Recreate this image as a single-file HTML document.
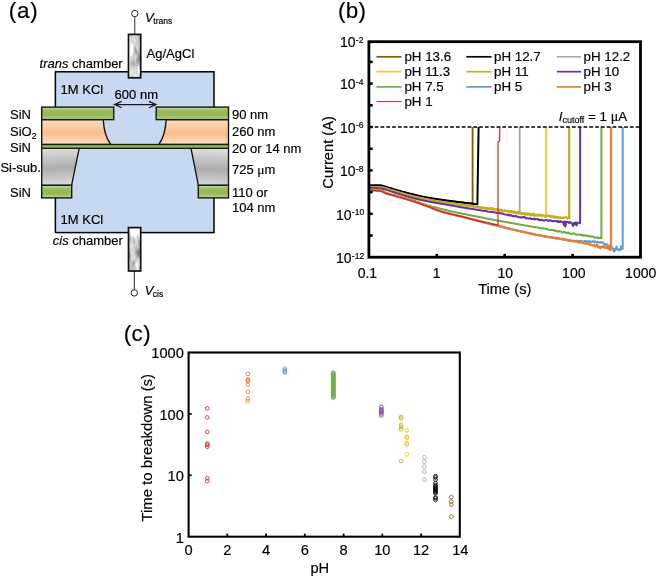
<!DOCTYPE html>
<html><head><meta charset="utf-8"><title>figure</title>
<style>
html,body{margin:0;padding:0;background:#fff;}
svg{display:block;font-family:"Liberation Sans",sans-serif;}
#panelA,#panelB,#panelC{opacity:0.999;}
text{fill:#000;stroke:#000;stroke-width:0.18px;}
</style></head><body>
<svg width="658" height="579" viewBox="0 0 658 579">
<defs>
<linearGradient id="gSiN" x1="0" y1="0" x2="0" y2="1"><stop offset="0" stop-color="#c6d9a0"/><stop offset="0.3" stop-color="#9bbb59"/><stop offset="0.65" stop-color="#97b856"/><stop offset="1" stop-color="#bdd391"/></linearGradient>
<linearGradient id="gOx" x1="0" y1="0" x2="0" y2="1"><stop offset="0" stop-color="#fddcc2"/><stop offset="0.55" stop-color="#fabf8f"/><stop offset="1" stop-color="#fddcc2"/></linearGradient>
<linearGradient id="gSiL" x1="0" y1="0" x2="0.04" y2="1"><stop offset="0" stop-color="#dedede"/><stop offset="0.55" stop-color="#adadad"/><stop offset="1" stop-color="#d9d9d9"/></linearGradient>
<linearGradient id="gSiR" x1="0.04" y1="0" x2="0" y2="1"><stop offset="0" stop-color="#dedede"/><stop offset="0.55" stop-color="#adadad"/><stop offset="1" stop-color="#d9d9d9"/></linearGradient>
<filter id="marble" x="0" y="0" width="1" height="1" color-interpolation-filters="sRGB"><feTurbulence type="fractalNoise" baseFrequency="0.12 0.05" numOctaves="3" seed="11"/><feColorMatrix type="matrix" values="1.25 0 0 0 0.2  1.25 0 0 0 0.2  1.25 0 0 0 0.2  0 0 0 0 1"/></filter>
<linearGradient id="gEl" x1="0" y1="0" x2="1" y2="1"><stop offset="0" stop-color="#c8c8c8"/><stop offset="0.25" stop-color="#e4e4e4"/><stop offset="0.45" stop-color="#b4b4b4"/><stop offset="0.65" stop-color="#dedede"/><stop offset="0.85" stop-color="#bdbdbd"/><stop offset="1" stop-color="#d5d5d5"/></linearGradient>
</defs>
<rect width="658" height="579" fill="#fff"/>
<g id="panelA">
<rect x="55.4" y="71.8" width="158.6" height="160.8" fill="#c6d9f1" stroke="#000" stroke-width="1.5"/>
<path d="M41.7,119.6 H103.2 C104,132 106.5,139 110.8,144.5 H41.7 Z" fill="url(#gOx)" stroke="#15150c" stroke-width="1.35"/>
<path d="M228.5,119.6 H166.2 C165.4,132 163,139 158.8,144.5 H228.5 Z" fill="url(#gOx)" stroke="#15150c" stroke-width="1.35"/>
<path d="M41.7,148.3 H79.2 L71.6,185.3 H41.7 Z" fill="url(#gSiL)" stroke="#151515" stroke-width="1.35"/>
<path d="M228.5,148.3 H191 L198.4,185.3 H228.5 Z" fill="url(#gSiR)" stroke="#151515" stroke-width="1.35"/>
<rect x="41.7" y="107.1" width="72" height="12.5" fill="url(#gSiN)" stroke="#121a08" stroke-width="1.4"/>
<rect x="156.2" y="107.1" width="72.3" height="12.5" fill="url(#gSiN)" stroke="#121a08" stroke-width="1.4"/>
<rect x="41.7" y="144.5" width="186.8" height="3.8" fill="#93b654" stroke="#121a08" stroke-width="1.3"/>
<rect x="41.7" y="185.3" width="30" height="12.6" fill="url(#gSiN)" stroke="#121a08" stroke-width="1.4"/>
<rect x="198.3" y="185.3" width="30.2" height="12.6" fill="url(#gSiN)" stroke="#121a08" stroke-width="1.4"/>
<line x1="134.8" y1="16.5" x2="134.8" y2="34" stroke="#333" stroke-width="1"/>
<circle cx="134.8" cy="13.5" r="3.2" fill="#fff" stroke="#222" stroke-width="1"/>
<rect x="128.5" y="34.4" width="12.2" height="43.4" fill="#ccc" filter="url(#marble)"/>
<rect x="128.5" y="34.4" width="12.2" height="43.4" fill="none" stroke="#111" stroke-width="1.7"/>
<line x1="134.3" y1="271" x2="134.3" y2="290" stroke="#222" stroke-width="1"/>
<circle cx="134.3" cy="292.9" r="3.2" fill="#fff" stroke="#222" stroke-width="1"/>
<rect x="128.5" y="227.6" width="12.2" height="43.4" fill="#ccc" filter="url(#marble)"/>
<rect x="128.5" y="227.6" width="12.2" height="43.4" fill="none" stroke="#111" stroke-width="1.7"/>
<path d="M114.6,104.6 H156 M121.6,101.4 L114.6,104.6 L121.6,107.8 M149,101.4 L156,104.6 L149,107.8" fill="none" stroke="#1a1a1a" stroke-width="1.2" stroke-linejoin="miter"/>
<text x="8.8" y="18" font-size="22.4" text-anchor="start" letter-spacing="0.8">(a)</text>
<text x="145.1" y="21.9" font-size="13"><tspan font-style="italic">V</tspan><tspan font-size="8.5" dy="2.5" dx="-0.5">trans</tspan></text>
<text x="146.6" y="58.4" font-size="13" text-anchor="start" >Ag/AgCl</text>
<text x="39.6" y="68" font-size="13"><tspan font-style="italic">trans</tspan> chamber</text>
<text x="60.6" y="93.7" font-size="13" text-anchor="start" >1M KCl</text>
<text x="114.6" y="98.5" font-size="13" text-anchor="start" >600 nm</text>
<text x="10" y="118.6" font-size="13" text-anchor="start" >SiN</text>
<text x="10" y="135.7" font-size="13">SiO<tspan font-size="8.5" dy="3">2</tspan></text>
<text x="10" y="151.8" font-size="13" text-anchor="start" >SiN</text>
<text x="0.4" y="171.8" font-size="13" text-anchor="start" >Si-sub.</text>
<text x="10" y="197" font-size="13" text-anchor="start" >SiN</text>
<text x="232" y="119.3" font-size="13" text-anchor="start" >90 nm</text>
<text x="232" y="136.3" font-size="13" text-anchor="start" >260 nm</text>
<text x="232" y="152.7" font-size="13" text-anchor="start" >20 or 14 nm</text>
<text x="232" y="173.6" font-size="13">725 <tspan font-family="Liberation Serif, serif" font-size="13.5">μ</tspan>m</text>
<text x="232" y="197" font-size="13" text-anchor="start" >110 or</text>
<text x="232" y="212.3" font-size="13" text-anchor="start" >104 nm</text>
<text x="60.6" y="223.5" font-size="13" text-anchor="start" >1M KCl</text>
<text x="52.8" y="245" font-size="13"><tspan font-style="italic">cis</tspan> chamber</text>
<text x="144.7" y="294.7" font-size="13"><tspan font-style="italic">V</tspan><tspan font-size="8.5" dy="2.5" dx="-0.5">cis</tspan></text>
</g>
<g id="panelB">
<path d="M370.0,186.0 L370.7,186.0 L371.4,186.0 L372.1,186.0 L372.8,186.0 L373.5,186.0 L374.2,186.0 L374.9,186.0 L375.6,186.0 L376.3,186.0 L377.0,186.0 L377.7,186.0 L378.4,186.0 L379.1,186.0 L379.8,186.0 L380.5,186.0 L381.2,186.2 L381.9,186.4 L382.6,186.6 L383.4,186.8 L384.1,187.0 L384.8,187.2 L385.5,187.4 L386.2,187.6 L386.9,187.8 L387.6,188.0 L388.3,188.2 L389.0,188.4 L389.7,188.6 L390.4,188.8 L391.1,189.1 L391.8,189.3 L392.5,189.5 L393.2,189.7 L393.9,189.9 L394.6,190.1 L395.3,190.3 L396.0,190.5 L396.7,190.7 L397.4,190.9 L398.1,191.1 L398.8,191.3 L399.5,191.5 L400.2,191.7 L400.9,191.9 L401.6,192.1 L402.3,192.3 L403.0,192.5 L403.7,192.7 L404.4,192.9 L405.1,193.0 L405.8,193.2 L406.5,193.4 L407.2,193.6 L407.9,193.8 L408.7,194.0 L409.4,194.2 L410.1,194.3 L410.8,194.5 L411.5,194.7 L412.2,194.8 L412.9,195.0 L413.6,195.2 L414.3,195.3 L415.0,195.5 L415.7,195.7 L416.4,195.8 L417.1,196.0 L417.8,196.1 L418.5,196.3 L419.2,196.4 L419.9,196.6 L420.6,196.7 L421.3,196.9 L422.0,197.0 L422.7,197.2 L423.4,197.3 L424.1,197.5 L424.8,197.6 L425.5,197.7 L426.2,197.9 L426.9,198.0 L427.6,198.1 L428.3,198.2 L429.0,198.4 L429.7,198.5 L430.4,198.6 L431.1,198.7 L431.8,198.8 L432.5,198.9 L433.2,199.0 L433.9,199.2 L434.7,199.3 L435.4,199.4 L436.1,199.5 L436.8,199.6 L437.5,199.7 L438.2,199.8 L438.9,199.9 L439.6,200.0 L440.3,200.1 L441.0,200.2 L441.7,200.3 L442.4,200.3 L443.1,200.4 L443.8,200.5 L444.5,200.6 L445.2,200.7 L445.9,200.8 L446.6,200.9 L447.3,201.0 L448.0,201.0 L448.7,201.1 L449.4,201.2 L450.1,201.3 L450.8,201.4 L451.5,201.4 L452.2,201.5 L452.9,201.6 L453.6,201.7 L454.3,201.7 L455.0,201.8 L455.7,201.8 L456.4,201.9 L457.1,202.0 L457.8,202.0 L458.5,202.1 L459.2,202.2 L460.0,202.2 L460.7,202.3 L461.4,202.4 L462.1,202.5 L462.8,202.5 L463.5,202.6 L464.2,202.7 L464.9,202.6 L465.6,202.8 L466.3,202.8 L467.0,202.8 L467.7,202.9 L468.4,203.0 L469.1,203.1 L469.8,203.0 L470.5,203.2 L471.2,203.2 L471.9,203.2 L472.6,203.3 L472.6,127.0" fill="none" stroke="#7f6000" stroke-width="1.8" stroke-linejoin="round"/>
<path d="M370.0,185.2 L370.7,185.2 L371.4,185.2 L372.1,185.2 L372.8,185.2 L373.5,185.2 L374.2,185.2 L374.9,185.2 L375.6,185.2 L376.3,185.2 L377.0,185.2 L377.7,185.2 L378.4,185.2 L379.1,185.2 L379.8,185.2 L380.5,185.2 L381.2,185.4 L381.9,185.5 L382.6,185.8 L383.3,186.0 L384.0,186.2 L384.7,186.4 L385.4,186.6 L386.1,186.8 L386.8,187.0 L387.5,187.2 L388.3,187.4 L389.0,187.7 L389.7,187.9 L390.4,188.1 L391.1,188.3 L391.8,188.5 L392.5,188.7 L393.2,189.0 L393.9,189.2 L394.6,189.4 L395.3,189.6 L396.0,189.8 L396.7,190.0 L397.4,190.2 L398.1,190.4 L398.8,190.6 L399.5,190.8 L400.2,191.0 L400.9,191.2 L401.6,191.4 L402.3,191.6 L403.0,191.8 L403.7,191.9 L404.4,192.1 L405.1,192.3 L405.8,192.5 L406.5,192.7 L407.2,192.9 L407.9,193.1 L408.6,193.2 L409.3,193.4 L410.0,193.6 L410.7,193.8 L411.4,194.0 L412.1,194.1 L412.8,194.3 L413.5,194.5 L414.2,194.6 L414.9,194.8 L415.6,195.0 L416.3,195.2 L417.0,195.3 L417.7,195.5 L418.4,195.7 L419.1,195.8 L419.8,196.0 L420.5,196.2 L421.2,196.3 L421.9,196.5 L422.6,196.6 L423.3,196.8 L424.1,196.9 L424.8,197.1 L425.5,197.2 L426.2,197.3 L426.9,197.5 L427.6,197.6 L428.3,197.7 L429.0,197.8 L429.7,198.0 L430.4,198.1 L431.1,198.2 L431.8,198.3 L432.5,198.4 L433.2,198.5 L433.9,198.6 L434.6,198.7 L435.3,198.8 L436.0,198.9 L436.7,199.0 L437.4,199.1 L438.1,199.2 L438.8,199.3 L439.5,199.4 L440.2,199.5 L440.9,199.6 L441.6,199.7 L442.3,199.8 L443.0,199.9 L443.7,200.0 L444.4,200.1 L445.1,200.2 L445.8,200.3 L446.5,200.4 L447.2,200.5 L447.9,200.6 L448.6,200.7 L449.3,200.8 L450.0,200.9 L450.7,201.0 L451.4,201.1 L452.1,201.2 L452.8,201.3 L453.5,201.3 L454.2,201.4 L454.9,201.5 L455.6,201.6 L456.3,201.7 L457.0,201.8 L457.7,201.9 L458.4,202.0 L459.1,202.1 L459.9,202.2 L460.6,202.3 L461.3,202.4 L462.0,202.4 L462.7,202.6 L463.4,202.6 L464.1,202.7 L464.8,202.9 L465.5,202.9 L466.2,203.0 L466.9,203.0 L467.6,203.2 L468.3,203.3 L469.0,203.4 L469.7,203.5 L470.4,203.5 L471.1,203.6 L471.8,203.7 L472.5,203.8 L473.2,203.8 L473.9,204.0 L474.6,204.1 L475.3,204.1 L476.0,204.2 L476.7,204.1 L477.4,204.3 L477.6,190.0 L478.6,127.0" fill="none" stroke="#000" stroke-width="2.0" stroke-linejoin="round"/>
<path d="M370.0,187.3 L370.7,187.3 L371.4,187.3 L372.1,187.3 L372.8,187.3 L373.5,187.3 L374.2,187.4 L374.9,187.4 L375.6,187.4 L376.3,187.4 L377.0,187.5 L377.7,187.5 L378.4,187.5 L379.1,187.6 L379.8,187.6 L380.5,187.6 L381.2,187.7 L381.9,187.8 L382.7,187.9 L383.4,188.0 L384.1,188.2 L384.8,188.3 L385.5,188.5 L386.2,188.7 L386.9,188.9 L387.6,189.1 L388.3,189.3 L389.0,189.6 L389.7,189.8 L390.4,190.0 L391.1,190.3 L391.8,190.5 L392.5,190.7 L393.2,191.0 L393.9,191.2 L394.6,191.4 L395.3,191.6 L396.0,191.8 L396.7,192.0 L397.4,192.2 L398.1,192.4 L398.8,192.6 L399.5,192.8 L400.2,193.0 L400.9,193.2 L401.6,193.4 L402.3,193.6 L403.0,193.8 L403.7,194.0 L404.4,194.2 L405.1,194.4 L405.8,194.6 L406.5,194.8 L407.2,195.0 L408.0,195.2 L408.7,195.4 L409.4,195.6 L410.1,195.8 L410.8,196.0 L411.5,196.2 L412.2,196.3 L412.9,196.5 L413.6,196.7 L414.3,196.9 L415.0,197.0 L415.7,197.2 L416.4,197.3 L417.1,197.5 L417.8,197.7 L418.5,197.8 L419.2,198.0 L419.9,198.1 L420.6,198.3 L421.3,198.4 L422.0,198.6 L422.7,198.7 L423.4,198.9 L424.1,199.0 L424.8,199.2 L425.5,199.3 L426.2,199.4 L426.9,199.6 L427.6,199.7 L428.3,199.9 L429.0,200.0 L429.7,200.1 L430.4,200.3 L431.1,200.4 L431.8,200.5 L432.6,200.6 L433.3,200.8 L434.0,200.9 L434.7,201.0 L435.4,201.1 L436.1,201.3 L436.8,201.4 L437.5,201.5 L438.2,201.6 L438.9,201.7 L439.6,201.8 L440.3,201.9 L441.0,202.1 L441.7,202.2 L442.4,202.3 L443.1,202.4 L443.8,202.5 L444.5,202.6 L445.2,202.7 L445.9,202.8 L446.6,202.9 L447.3,203.0 L448.0,203.1 L448.7,203.2 L449.4,203.3 L450.1,203.4 L450.8,203.5 L451.5,203.6 L452.2,203.7 L452.9,203.8 L453.6,203.9 L454.3,204.0 L455.0,204.1 L455.7,204.2 L456.4,204.3 L457.1,204.4 L457.9,204.5 L458.6,204.6 L459.3,204.7 L460.0,204.8 L460.7,204.9 L461.4,205.0 L462.1,205.1 L462.8,205.2 L463.5,205.2 L464.2,205.3 L464.9,205.4 L465.6,205.5 L466.3,205.6 L467.0,205.7 L467.7,205.8 L468.4,205.9 L469.1,206.0 L469.8,206.1 L470.5,206.2 L471.2,206.3 L471.9,206.4 L472.6,206.5 L473.3,206.6 L474.0,206.7 L474.7,206.8 L475.4,206.9 L476.1,207.0 L476.8,207.1 L477.5,207.1 L478.2,207.2 L478.9,207.4 L479.6,207.4 L480.3,207.5 L481.0,207.7 L481.7,207.8 L482.5,207.8 L483.2,207.9 L483.9,208.1 L484.6,208.2 L485.3,208.3 L486.0,208.4 L486.7,208.4 L487.4,208.5 L488.1,208.6 L488.8,208.8 L489.5,209.0 L490.2,208.8 L490.9,208.9 L491.6,209.0 L492.3,209.1 L493.0,209.3 L493.7,209.4 L494.4,209.4 L495.1,209.4 L495.8,209.7 L496.5,209.8 L497.2,209.9 L497.9,210.2 L498.6,210.2 L499.3,210.2 L500.0,210.4 L500.7,210.5 L501.4,210.3 L502.1,210.8 L502.8,210.8 L503.5,211.0 L504.2,211.1 L504.9,211.0 L505.6,211.1 L506.3,211.0 L507.0,211.4 L507.8,211.2 L508.5,211.3 L509.2,211.5 L509.9,211.5 L510.6,211.7 L511.3,211.7 L512.0,211.7 L512.7,211.9 L513.4,212.0 L514.1,212.3 L514.8,212.2 L515.5,212.8 L516.2,212.7 L516.9,212.6 L517.6,212.7 L518.3,212.9 L519.0,213.0 L519.7,213.2 L519.7,127.0" fill="none" stroke="#a5a5a5" stroke-width="1.8" stroke-linejoin="round"/>
<path d="M370.0,187.4 L370.7,187.4 L371.4,187.4 L372.1,187.4 L372.8,187.4 L373.5,187.4 L374.2,187.5 L374.9,187.5 L375.6,187.5 L376.3,187.5 L377.0,187.6 L377.7,187.6 L378.4,187.6 L379.1,187.7 L379.8,187.7 L380.5,187.7 L381.2,187.8 L381.9,187.9 L382.6,188.0 L383.3,188.1 L384.0,188.3 L384.7,188.5 L385.4,188.6 L386.1,188.8 L386.8,189.0 L387.5,189.3 L388.3,189.5 L389.0,189.7 L389.7,190.0 L390.4,190.2 L391.1,190.4 L391.8,190.7 L392.5,190.9 L393.2,191.1 L393.9,191.4 L394.6,191.6 L395.3,191.8 L396.0,192.0 L396.7,192.2 L397.4,192.4 L398.1,192.6 L398.8,192.8 L399.5,193.0 L400.2,193.2 L400.9,193.4 L401.6,193.6 L402.3,193.8 L403.0,194.0 L403.7,194.2 L404.4,194.4 L405.1,194.6 L405.8,194.8 L406.5,195.0 L407.2,195.2 L407.9,195.4 L408.6,195.6 L409.3,195.8 L410.0,196.0 L410.7,196.2 L411.4,196.4 L412.1,196.5 L412.8,196.7 L413.5,196.9 L414.2,197.0 L414.9,197.2 L415.6,197.4 L416.3,197.5 L417.0,197.7 L417.7,197.9 L418.4,198.0 L419.1,198.2 L419.8,198.3 L420.5,198.5 L421.2,198.6 L421.9,198.8 L422.6,198.9 L423.4,199.1 L424.1,199.2 L424.8,199.4 L425.5,199.5 L426.2,199.6 L426.9,199.8 L427.6,199.9 L428.3,200.0 L429.0,200.2 L429.7,200.3 L430.4,200.4 L431.1,200.6 L431.8,200.7 L432.5,200.8 L433.2,201.0 L433.9,201.1 L434.6,201.2 L435.3,201.3 L436.0,201.4 L436.7,201.6 L437.4,201.7 L438.1,201.8 L438.8,201.9 L439.5,202.0 L440.2,202.1 L440.9,202.2 L441.6,202.4 L442.3,202.5 L443.0,202.6 L443.7,202.7 L444.4,202.8 L445.1,202.9 L445.8,203.0 L446.5,203.1 L447.2,203.2 L447.9,203.3 L448.6,203.4 L449.3,203.5 L450.0,203.6 L450.7,203.7 L451.4,203.8 L452.1,203.9 L452.8,204.0 L453.5,204.1 L454.2,204.2 L454.9,204.3 L455.6,204.4 L456.3,204.5 L457.0,204.6 L457.7,204.7 L458.5,204.8 L459.2,204.9 L459.9,205.0 L460.6,205.0 L461.3,205.1 L462.0,205.2 L462.7,205.3 L463.4,205.4 L464.1,205.5 L464.8,205.6 L465.5,205.7 L466.2,205.8 L466.9,205.9 L467.6,206.0 L468.3,206.1 L469.0,206.2 L469.7,206.3 L470.4,206.4 L471.1,206.5 L471.8,206.6 L472.5,206.7 L473.2,206.8 L473.9,206.8 L474.6,206.9 L475.3,207.1 L476.0,207.1 L476.7,207.4 L477.4,207.3 L478.1,207.3 L478.8,207.7 L479.5,207.7 L480.2,207.6 L480.9,207.9 L481.6,207.8 L482.3,208.1 L483.0,208.4 L483.7,208.4 L484.4,208.4 L485.1,208.3 L485.8,208.4 L486.5,208.4 L487.2,208.9 L487.9,208.8 L488.6,209.1 L489.3,208.9 L490.0,208.9 L490.7,209.4 L491.4,209.7 L492.1,209.7 L492.8,209.7 L493.6,209.8 L494.3,209.9 L495.0,209.5 L495.7,209.9 L496.4,209.8 L497.1,209.6 L497.8,209.7 L498.5,210.1 L499.2,210.1 L499.9,210.7 L500.6,211.1 L501.3,210.6 L502.0,211.3 L502.7,211.5 L503.4,211.5 L504.1,210.9 L504.8,210.9 L505.5,211.0 L506.2,211.0 L506.9,211.2 L507.6,211.8 L508.3,212.3 L509.0,212.3 L509.7,212.0 L510.4,212.3 L511.1,212.6 L511.8,211.7 L512.5,212.6 L513.2,213.1 L513.9,213.0 L514.6,213.1 L515.3,212.8 L516.0,212.5 L516.7,213.4 L517.4,212.9 L518.1,213.7 L518.8,214.0 L519.5,213.3 L520.2,213.4 L520.9,214.2 L521.6,214.0 L522.3,213.3 L523.0,213.4 L523.7,213.5 L524.4,214.6 L525.1,214.6 L525.8,213.8 L526.5,214.8 L527.2,215.1 L527.9,214.7 L528.7,214.4 L529.4,214.8 L530.1,214.3 L530.8,214.2 L531.5,215.6 L532.2,215.3 L532.9,215.2 L533.6,215.8 L534.3,215.2 L535.0,215.9 L535.7,215.9 L536.4,215.1 L537.1,215.3 L537.8,215.4 L538.5,215.4 L539.2,216.0 L539.9,215.6 L540.6,215.9 L541.3,215.6 L542.0,216.7 L542.7,216.0 L543.4,216.3 L544.1,216.5 L544.8,217.0 L545.5,216.4 L546.2,216.6 L546.2,127.0" fill="none" stroke="#f7c52e" stroke-width="1.9" stroke-linejoin="round"/>
<path d="M370.0,187.0 L370.7,187.0 L371.4,187.0 L372.1,187.0 L372.8,187.0 L373.5,187.0 L374.2,187.1 L374.9,187.1 L375.6,187.1 L376.3,187.1 L377.0,187.2 L377.7,187.2 L378.4,187.2 L379.1,187.3 L379.8,187.3 L380.5,187.3 L381.2,187.4 L381.9,187.5 L382.6,187.6 L383.3,187.7 L384.0,187.9 L384.7,188.0 L385.4,188.2 L386.1,188.4 L386.8,188.6 L387.5,188.8 L388.2,189.0 L388.9,189.3 L389.6,189.5 L390.3,189.7 L391.0,190.0 L391.7,190.2 L392.4,190.4 L393.1,190.6 L393.8,190.9 L394.5,191.1 L395.3,191.3 L396.0,191.5 L396.7,191.7 L397.4,191.9 L398.1,192.1 L398.8,192.3 L399.5,192.5 L400.2,192.7 L400.9,192.9 L401.6,193.1 L402.3,193.3 L403.0,193.5 L403.7,193.7 L404.4,193.9 L405.1,194.1 L405.8,194.3 L406.5,194.5 L407.2,194.7 L407.9,194.9 L408.6,195.1 L409.3,195.3 L410.0,195.5 L410.7,195.7 L411.4,195.8 L412.1,196.0 L412.8,196.2 L413.5,196.4 L414.2,196.5 L414.9,196.7 L415.6,196.9 L416.3,197.0 L417.0,197.2 L417.7,197.3 L418.4,197.5 L419.1,197.7 L419.8,197.8 L420.5,198.0 L421.2,198.1 L421.9,198.3 L422.6,198.4 L423.3,198.6 L424.0,198.7 L424.7,198.8 L425.4,199.0 L426.1,199.1 L426.8,199.3 L427.5,199.4 L428.2,199.5 L428.9,199.7 L429.6,199.8 L430.3,199.9 L431.0,200.1 L431.7,200.2 L432.4,200.3 L433.1,200.4 L433.8,200.6 L434.5,200.7 L435.2,200.8 L435.9,200.9 L436.6,201.0 L437.3,201.2 L438.0,201.3 L438.7,201.4 L439.4,201.5 L440.1,201.6 L440.8,201.7 L441.5,201.8 L442.2,202.0 L442.9,202.1 L443.6,202.2 L444.3,202.3 L445.1,202.4 L445.8,202.5 L446.5,202.6 L447.2,202.7 L447.9,202.8 L448.6,202.9 L449.3,203.0 L450.0,203.1 L450.7,203.2 L451.4,203.3 L452.1,203.4 L452.8,203.5 L453.5,203.6 L454.2,203.7 L454.9,203.8 L455.6,203.9 L456.3,204.0 L457.0,204.1 L457.7,204.2 L458.4,204.3 L459.1,204.3 L459.8,204.4 L460.5,204.5 L461.2,204.6 L461.9,204.7 L462.6,204.8 L463.3,204.9 L464.0,205.0 L464.7,205.1 L465.4,205.1 L466.1,205.4 L466.8,205.3 L467.5,205.5 L468.2,205.7 L468.9,205.7 L469.6,205.7 L470.3,205.9 L471.0,206.0 L471.7,206.2 L472.4,206.0 L473.1,206.3 L473.8,206.2 L474.5,206.3 L475.2,206.7 L475.9,206.7 L476.6,206.8 L477.3,207.0 L478.0,207.3 L478.7,207.0 L479.4,207.2 L480.1,207.2 L480.8,207.3 L481.5,207.6 L482.2,207.5 L482.9,207.7 L483.6,207.7 L484.3,208.2 L485.0,208.1 L485.7,208.4 L486.4,208.6 L487.1,207.9 L487.8,208.4 L488.5,208.9 L489.2,208.9 L489.9,208.1 L490.6,208.2 L491.3,208.7 L492.0,208.3 L492.7,208.6 L493.4,208.5 L494.1,209.4 L494.9,209.7 L495.6,209.9 L496.3,209.0 L497.0,209.9 L497.7,209.9 L498.4,209.2 L499.1,210.5 L499.8,210.7 L500.5,209.6 L501.2,210.9 L501.9,210.1 L502.6,210.4 L503.3,211.3 L504.0,211.1 L504.7,210.2 L505.4,210.7 L506.1,210.9 L506.8,210.8 L507.5,210.6 L508.2,211.0 L508.9,211.7 L509.6,210.7 L510.3,211.7 L511.0,211.6 L511.7,211.0 L512.4,211.6 L513.1,212.2 L513.8,212.1 L514.5,211.5 L515.2,213.1 L515.9,212.9 L516.6,213.3 L517.3,212.0 L518.0,212.4 L518.7,212.1 L519.4,213.4 L520.1,212.6 L520.8,212.5 L521.5,213.1 L522.2,213.9 L522.9,213.9 L523.6,213.1 L524.3,213.0 L525.0,214.3 L525.7,213.8 L526.4,214.1 L527.1,213.3 L527.8,213.3 L528.5,214.4 L529.2,214.0 L529.9,213.6 L530.6,215.0 L531.3,214.6 L532.0,215.0 L532.7,213.9 L533.4,215.2 L534.1,214.0 L534.8,215.4 L535.5,214.8 L536.2,214.7 L536.9,215.1 L537.6,215.8 L538.3,214.8 L539.0,214.7 L539.7,215.4 L540.4,215.0 L541.1,214.9 L541.8,215.1 L542.5,215.0 L543.2,215.3 L543.9,215.5 L544.7,215.6 L545.4,216.4 L546.1,215.7 L546.8,216.1 L547.5,215.7 L548.2,216.0 L548.9,215.6 L549.6,216.0 L550.3,215.7 L551.0,216.9 L551.7,216.7 L552.4,216.2 L553.1,216.7 L553.8,217.5 L554.5,216.3 L555.2,217.5 L555.9,216.9 L556.6,217.1 L557.3,217.7 L558.0,217.1 L558.7,217.3 L559.4,217.7 L560.1,218.2 L560.8,217.3 L561.5,218.1 L562.2,218.0 L562.9,217.9 L563.6,217.6 L564.3,217.6 L565.0,217.2 L565.7,217.4 L566.4,217.4 L567.1,218.5 L567.8,217.8 L568.5,217.7 L569.2,218.3 L569.2,127.0" fill="none" stroke="#bdb021" stroke-width="2.2" stroke-linejoin="round"/>
<path d="M370.0,188.0 L370.7,188.0 L371.4,188.0 L372.1,188.0 L372.8,188.1 L373.5,188.1 L374.2,188.1 L374.9,188.1 L375.6,188.2 L376.3,188.2 L377.0,188.3 L377.7,188.3 L378.4,188.4 L379.1,188.4 L379.8,188.5 L380.5,188.5 L381.2,188.6 L381.9,188.7 L382.6,188.9 L383.3,189.0 L384.0,189.2 L384.7,189.3 L385.4,189.5 L386.1,189.7 L386.8,189.9 L387.5,190.2 L388.2,190.4 L388.9,190.6 L389.6,190.9 L390.3,191.1 L391.0,191.4 L391.7,191.6 L392.4,191.8 L393.1,192.1 L393.8,192.3 L394.5,192.5 L395.2,192.8 L395.9,193.0 L396.6,193.2 L397.3,193.4 L398.0,193.6 L398.7,193.8 L399.4,194.0 L400.1,194.2 L400.8,194.5 L401.5,194.7 L402.2,194.9 L402.9,195.1 L403.6,195.3 L404.3,195.6 L405.0,195.8 L405.7,196.0 L406.4,196.2 L407.1,196.4 L407.8,196.6 L408.5,196.8 L409.2,197.0 L409.9,197.2 L410.6,197.4 L411.3,197.6 L412.0,197.8 L412.7,198.0 L413.4,198.2 L414.1,198.3 L414.8,198.5 L415.5,198.7 L416.2,198.8 L416.9,199.0 L417.6,199.2 L418.3,199.3 L419.0,199.5 L419.7,199.7 L420.4,199.8 L421.1,200.0 L421.8,200.1 L422.5,200.3 L423.2,200.4 L423.9,200.6 L424.6,200.7 L425.3,200.9 L426.0,201.0 L426.7,201.1 L427.4,201.3 L428.1,201.4 L428.8,201.6 L429.5,201.7 L430.2,201.8 L430.9,201.9 L431.6,202.1 L432.3,202.2 L433.0,202.3 L433.7,202.4 L434.4,202.5 L435.1,202.7 L435.8,202.8 L436.5,202.9 L437.2,203.0 L437.9,203.1 L438.6,203.3 L439.3,203.4 L440.0,203.5 L440.7,203.6 L441.4,203.8 L442.1,203.9 L442.8,204.0 L443.5,204.1 L444.2,204.2 L444.9,204.4 L445.6,204.5 L446.3,204.6 L447.0,204.7 L447.7,204.9 L448.4,205.0 L449.1,205.1 L449.8,205.2 L450.5,205.3 L451.2,205.5 L451.9,205.6 L452.6,205.7 L453.3,205.8 L454.0,206.0 L454.7,206.1 L455.4,206.2 L456.1,206.3 L456.8,206.4 L457.5,206.6 L458.2,206.7 L458.9,206.8 L459.6,206.9 L460.3,207.0 L461.0,207.2 L461.7,207.3 L462.4,207.4 L463.1,207.5 L463.8,207.6 L464.5,207.8 L465.2,207.9 L465.9,208.0 L466.6,208.1 L467.3,208.2 L468.0,208.3 L468.7,208.5 L469.4,208.6 L470.1,208.7 L470.8,208.8 L471.5,208.9 L472.2,209.0 L472.9,209.1 L473.6,209.2 L474.3,209.3 L475.1,209.5 L475.8,209.6 L476.5,209.7 L477.2,209.8 L477.9,209.9 L478.6,210.0 L479.3,210.1 L480.0,210.2 L480.7,210.3 L481.4,210.4 L482.1,210.6 L482.8,210.7 L483.5,210.7 L484.2,210.8 L484.9,210.9 L485.6,211.1 L486.3,211.1 L487.0,211.3 L487.7,211.4 L488.4,211.6 L489.1,211.8 L489.8,211.7 L490.5,211.8 L491.2,212.1 L491.9,212.0 L492.6,212.1 L493.3,212.1 L494.0,212.4 L494.7,212.5 L495.4,212.6 L496.1,212.6 L496.8,212.9 L497.5,212.7 L498.2,213.0 L498.9,213.0 L499.6,213.3 L500.3,213.2 L501.0,213.3 L501.7,213.6 L502.4,213.6 L503.1,214.0 L503.8,214.1 L504.5,214.4 L505.2,214.4 L505.9,214.6 L506.6,214.9 L507.3,214.6 L508.0,214.7 L508.7,215.4 L509.4,214.8 L510.1,215.4 L510.8,215.5 L511.5,215.1 L512.2,216.0 L512.9,216.2 L513.6,216.0 L514.3,216.3 L515.0,216.5 L515.7,215.9 L516.4,216.4 L517.1,216.5 L517.8,217.0 L518.5,217.1 L519.2,217.3 L519.9,217.1 L520.6,217.6 L521.3,217.4 L522.0,217.5 L522.7,217.1 L523.4,217.0 L524.1,217.2 L524.8,217.6 L525.5,217.4 L526.2,218.4 L526.9,218.1 L527.6,218.3 L528.3,218.4 L529.0,218.6 L529.7,218.5 L530.4,218.0 L531.1,219.0 L531.8,219.1 L532.5,218.9 L533.2,219.0 L533.9,219.2 L534.6,218.6 L535.3,219.5 L536.0,219.0 L536.7,218.9 L537.4,219.2 L538.1,219.9 L538.8,219.3 L539.5,220.0 L540.2,220.4 L540.9,219.9 L541.6,219.8 L542.3,220.0 L543.0,220.3 L543.7,220.5 L544.4,220.4 L545.1,220.5 L545.8,219.9 L546.5,220.0 L547.2,220.2 L547.9,220.9 L548.6,220.4 L549.3,220.8 L550.0,220.2 L550.7,220.3 L551.4,220.6 L552.1,221.1 L552.8,221.2 L553.5,221.3 L554.2,220.9 L554.9,221.2 L555.6,221.2 L556.3,221.3 L557.0,220.9 L557.7,221.9 L558.4,221.1 L559.1,222.1 L559.8,222.1 L560.5,221.1 L561.2,221.7 L561.9,222.1 L562.6,222.4 L563.3,221.8 L564.0,225.2 L564.7,221.6 L565.4,226.6 L566.1,221.8 L566.8,222.3 L567.5,221.8 L568.2,222.3 L568.9,222.9 L569.6,221.9 L570.3,222.8 L571.0,222.5 L571.7,223.0 L572.4,224.5 L573.1,226.1 L573.8,223.2 L574.5,222.8 L575.2,224.5 L575.9,222.3 L576.6,225.4 L577.3,222.9 L578.0,222.8 L578.7,222.7 L579.4,223.0 L580.1,223.2 L580.1,127.0" fill="none" stroke="#7030a0" stroke-width="2" stroke-linejoin="round"/>
<path d="M370.0,189.4 L370.7,189.4 L371.4,189.4 L372.1,189.4 L372.8,189.5 L373.5,189.5 L374.2,189.6 L374.9,189.6 L375.6,189.7 L376.3,189.7 L377.0,189.8 L377.7,189.9 L378.4,190.0 L379.1,190.1 L379.8,190.2 L380.5,190.3 L381.2,190.5 L381.9,190.7 L382.6,191.0 L383.3,191.3 L384.0,191.7 L384.7,192.0 L385.4,192.4 L386.1,192.7 L386.8,192.9 L387.5,193.2 L388.2,193.4 L388.9,193.6 L389.6,193.8 L390.3,194.0 L391.0,194.2 L391.7,194.4 L392.4,194.5 L393.1,194.7 L393.8,194.9 L394.5,195.1 L395.2,195.3 L395.9,195.5 L396.6,195.7 L397.3,195.9 L398.0,196.1 L398.7,196.3 L399.5,196.5 L400.2,196.7 L400.9,196.9 L401.6,197.1 L402.3,197.3 L403.0,197.5 L403.7,197.7 L404.4,197.9 L405.1,198.1 L405.8,198.3 L406.5,198.5 L407.2,198.7 L407.9,198.9 L408.6,199.1 L409.3,199.3 L410.0,199.5 L410.7,199.7 L411.4,199.9 L412.1,200.1 L412.8,200.3 L413.5,200.6 L414.2,200.8 L414.9,201.0 L415.6,201.2 L416.3,201.5 L417.0,201.7 L417.7,201.9 L418.4,202.2 L419.1,202.4 L419.8,202.7 L420.5,202.9 L421.2,203.1 L421.9,203.4 L422.6,203.6 L423.3,203.8 L424.0,204.1 L424.7,204.3 L425.4,204.5 L426.1,204.7 L426.8,204.9 L427.5,205.1 L428.2,205.4 L428.9,205.6 L429.6,205.8 L430.3,206.0 L431.0,206.2 L431.7,206.4 L432.4,206.6 L433.1,206.8 L433.8,207.0 L434.5,207.1 L435.2,207.3 L435.9,207.5 L436.6,207.7 L437.3,207.9 L438.0,208.1 L438.7,208.3 L439.4,208.5 L440.1,208.6 L440.8,208.8 L441.5,209.0 L442.2,209.2 L442.9,209.3 L443.6,209.5 L444.3,209.7 L445.0,209.9 L445.7,210.0 L446.4,210.2 L447.1,210.4 L447.8,210.5 L448.5,210.7 L449.2,210.9 L449.9,211.0 L450.6,211.2 L451.3,211.4 L452.0,211.5 L452.7,211.7 L453.4,211.8 L454.1,212.0 L454.8,212.1 L455.5,212.3 L456.2,212.4 L457.0,212.6 L457.7,212.7 L458.4,212.9 L459.1,213.0 L459.8,213.1 L460.5,213.3 L461.2,213.4 L461.9,213.6 L462.6,213.7 L463.3,213.9 L464.0,214.0 L464.7,214.1 L465.4,214.3 L466.1,214.4 L466.8,214.6 L467.5,214.7 L468.2,214.8 L468.9,215.0 L469.6,215.1 L470.3,215.3 L471.0,215.4 L471.7,215.5 L472.4,215.7 L473.1,215.8 L473.8,216.0 L474.5,216.1 L475.2,216.2 L475.9,216.4 L476.6,216.5 L477.3,216.6 L478.0,216.8 L478.7,216.9 L479.4,217.1 L480.1,217.2 L480.8,217.3 L481.5,217.5 L482.2,217.6 L482.9,217.7 L483.6,217.9 L484.3,218.0 L485.0,218.2 L485.7,218.3 L486.4,218.4 L487.1,218.6 L487.8,218.7 L488.5,218.8 L489.2,219.0 L489.9,219.1 L490.6,219.2 L491.3,219.4 L492.0,219.5 L492.7,219.6 L493.4,219.8 L494.1,219.9 L494.8,220.0 L495.5,220.2 L496.2,220.3 L496.9,220.4 L497.6,220.6 L498.3,220.7 L499.0,220.8 L499.7,220.9 L500.4,221.1 L501.1,221.2 L501.8,221.3 L502.5,221.5 L503.2,221.6 L503.9,221.7 L504.6,221.9 L505.3,222.0 L506.0,222.1 L506.7,222.2 L507.4,222.4 L508.1,222.5 L508.8,222.6 L509.5,222.7 L510.2,222.9 L510.9,223.0 L511.6,223.1 L512.3,223.2 L513.0,223.4 L513.7,223.5 L514.4,223.6 L515.2,223.7 L515.9,223.9 L516.6,224.0 L517.3,224.1 L518.0,224.2 L518.7,224.4 L519.4,224.5 L520.1,224.6 L520.8,224.7 L521.5,224.9 L522.2,225.0 L522.9,225.1 L523.6,225.2 L524.3,225.4 L525.0,225.4 L525.7,225.6 L526.4,225.7 L527.1,225.8 L527.8,225.8 L528.5,226.2 L529.2,226.1 L529.9,226.3 L530.6,226.3 L531.3,226.4 L532.0,226.7 L532.7,226.9 L533.4,226.8 L534.1,227.1 L534.8,227.0 L535.5,227.2 L536.2,227.3 L536.9,227.3 L537.6,227.4 L538.3,227.5 L539.0,228.1 L539.7,227.9 L540.4,227.9 L541.1,228.4 L541.8,228.6 L542.5,228.4 L543.2,228.3 L543.9,228.5 L544.6,228.5 L545.3,228.8 L546.0,228.8 L546.7,229.0 L547.4,229.1 L548.1,229.5 L548.8,229.9 L549.5,229.9 L550.2,229.8 L550.9,229.9 L551.6,230.1 L552.3,230.1 L553.0,230.2 L553.7,230.1 L554.4,230.4 L555.1,231.2 L555.8,230.5 L556.5,231.0 L557.2,231.3 L557.9,231.7 L558.6,231.0 L559.3,231.2 L560.0,231.3 L560.7,231.6 L561.4,231.8 L562.1,232.5 L562.8,232.5 L563.5,232.6 L564.2,231.7 L564.9,231.9 L565.6,232.8 L566.3,233.1 L567.0,232.7 L567.7,233.0 L568.4,232.4 L569.1,233.0 L569.8,233.7 L570.5,233.7 L571.2,233.8 L571.9,234.1 L572.7,233.3 L573.4,233.3 L574.1,233.4 L574.8,234.0 L575.5,234.3 L576.2,234.7 L576.9,234.6 L577.6,234.6 L578.3,234.8 L579.0,234.6 L579.7,234.8 L580.4,234.3 L581.1,235.3 L581.8,234.8 L582.5,235.7 L583.2,235.5 L583.9,235.2 L584.6,235.1 L585.3,235.4 L586.0,235.9 L586.7,236.1 L587.4,235.5 L588.1,235.6 L588.8,236.3 L589.5,236.4 L590.2,236.3 L590.9,236.2 L591.6,236.8 L592.3,236.2 L593.0,236.7 L593.7,237.0 L594.4,237.7 L595.1,237.4 L595.8,237.8 L596.5,237.5 L597.2,237.3 L597.9,237.4 L598.6,238.4 L599.3,238.2 L600.0,237.8 L600.7,237.6 L601.4,238.3 L601.4,127.0" fill="none" stroke="#70ad47" stroke-width="2" stroke-linejoin="round"/>
<path d="M370.0,190.3 L370.7,190.3 L371.4,190.3 L372.1,190.3 L372.8,190.4 L373.5,190.4 L374.2,190.4 L374.9,190.5 L375.6,190.5 L376.3,190.6 L377.0,190.7 L377.7,190.7 L378.4,190.8 L379.1,190.9 L379.8,191.0 L380.5,191.1 L381.2,191.3 L381.9,191.5 L382.6,191.8 L383.3,192.1 L384.0,192.5 L384.7,192.8 L385.4,193.1 L386.1,193.5 L386.8,193.7 L387.5,194.0 L388.2,194.2 L388.9,194.4 L389.6,194.6 L390.3,194.8 L391.0,195.0 L391.7,195.2 L392.4,195.3 L393.1,195.5 L393.8,195.7 L394.5,195.9 L395.2,196.1 L395.9,196.3 L396.6,196.5 L397.3,196.7 L398.0,196.9 L398.7,197.1 L399.4,197.3 L400.1,197.5 L400.8,197.7 L401.5,197.9 L402.2,198.1 L402.9,198.3 L403.6,198.5 L404.3,198.7 L405.0,198.9 L405.7,199.1 L406.4,199.3 L407.1,199.5 L407.8,199.7 L408.5,199.9 L409.2,200.1 L409.9,200.3 L410.6,200.6 L411.3,200.8 L412.0,201.0 L412.7,201.2 L413.4,201.5 L414.1,201.7 L414.8,201.9 L415.5,202.2 L416.2,202.4 L416.9,202.6 L417.6,202.9 L418.3,203.1 L419.0,203.4 L419.7,203.6 L420.4,203.9 L421.1,204.1 L421.8,204.4 L422.5,204.6 L423.2,204.9 L423.9,205.2 L424.6,205.4 L425.3,205.7 L426.0,205.9 L426.7,206.2 L427.4,206.4 L428.1,206.7 L428.8,207.0 L429.5,207.3 L430.2,207.5 L430.9,207.8 L431.6,208.1 L432.3,208.4 L433.0,208.7 L433.7,209.0 L434.4,209.2 L435.1,209.5 L435.8,209.8 L436.5,210.1 L437.2,210.3 L437.9,210.6 L438.6,210.8 L439.3,211.1 L440.0,211.3 L440.7,211.5 L441.4,211.7 L442.1,211.9 L442.8,212.2 L443.5,212.4 L444.2,212.6 L444.9,212.8 L445.6,212.9 L446.3,213.1 L447.0,213.3 L447.7,213.5 L448.4,213.7 L449.1,213.9 L449.8,214.1 L450.5,214.2 L451.2,214.4 L451.9,214.6 L452.6,214.7 L453.3,214.9 L454.0,215.1 L454.7,215.3 L455.4,215.4 L456.1,215.6 L456.8,215.8 L457.5,215.9 L458.2,216.1 L458.9,216.3 L459.6,216.4 L460.3,216.6 L461.0,216.8 L461.7,216.9 L462.4,217.1 L463.1,217.3 L463.8,217.4 L464.5,217.6 L465.2,217.8 L465.9,218.0 L466.6,218.2 L467.3,218.3 L468.0,218.5 L468.7,218.7 L469.4,218.9 L470.1,219.0 L470.8,219.2 L471.5,219.4 L472.2,219.6 L472.9,219.8 L473.6,219.9 L474.3,220.1 L475.0,220.3 L475.7,220.5 L476.4,220.7 L477.1,220.8 L477.8,221.0 L478.5,221.2 L479.2,221.4 L479.9,221.6 L480.6,221.7 L481.3,221.9 L482.0,222.1 L482.7,222.3 L483.4,222.4 L484.1,222.6 L484.8,222.8 L485.5,223.0 L486.2,223.2 L486.9,223.3 L487.6,223.5 L488.3,223.7 L489.0,223.9 L489.7,224.0 L490.4,224.2 L491.1,224.4 L491.8,224.6 L492.5,224.7 L493.2,224.9 L493.9,225.1 L494.6,225.3 L495.3,225.4 L496.0,225.6 L496.7,225.8 L497.4,226.0 L498.1,226.1 L498.8,226.3 L499.5,226.5 L500.2,226.6 L500.9,226.8 L501.6,227.0 L502.3,227.2 L503.0,227.3 L503.7,227.5 L504.4,227.7 L505.1,227.9 L505.8,228.0 L506.5,228.2 L507.2,228.4 L507.9,228.5 L508.6,228.7 L509.3,228.9 L510.0,229.0 L510.7,229.2 L511.4,229.4 L512.1,229.6 L512.8,229.7 L513.5,229.9 L514.2,230.1 L514.9,230.2 L515.6,230.4 L516.3,230.5 L517.0,230.7 L517.7,230.9 L518.4,231.0 L519.1,231.2 L519.8,231.4 L520.5,231.5 L521.2,231.7 L521.9,231.8 L522.6,232.0 L523.3,232.1 L524.0,232.3 L524.7,232.5 L525.4,232.6 L526.1,232.8 L526.8,232.9 L527.5,233.1 L528.2,233.3 L528.9,233.4 L529.6,233.6 L530.3,233.7 L531.0,233.9 L531.7,234.0 L532.4,234.2 L533.1,234.3 L533.8,234.5 L534.5,234.6 L535.2,234.8 L535.9,234.9 L536.6,235.0 L537.3,235.2 L538.0,235.3 L538.7,235.5 L539.4,235.6 L540.1,235.7 L540.8,235.9 L541.5,236.0 L542.2,236.1 L542.9,236.2 L543.6,236.4 L544.3,236.4 L545.0,236.5 L545.7,236.7 L546.4,236.8 L547.1,237.0 L547.8,237.0 L548.5,237.3 L549.2,237.4 L549.9,237.4 L550.6,237.5 L551.3,237.8 L552.0,237.7 L552.7,238.0 L553.4,237.9 L554.1,238.0 L554.8,238.3 L555.5,238.2 L556.2,238.7 L556.9,238.5 L557.6,238.5 L558.3,238.6 L559.0,238.8 L559.7,239.1 L560.4,239.3 L561.1,238.9 L561.8,239.2 L562.5,239.2 L563.2,239.8 L563.9,239.3 L564.6,239.4 L565.3,239.5 L566.0,239.8 L566.7,240.4 L567.4,240.5 L568.1,240.4 L568.8,240.8 L569.5,240.8 L570.2,240.4 L570.9,240.3 L571.6,241.1 L572.3,241.0 L573.0,240.4 L573.7,241.1 L574.4,240.8 L575.1,240.9 L575.8,240.9 L576.5,240.7 L577.2,240.6 L577.9,240.9 L578.6,241.0 L579.3,241.7 L580.0,240.8 L580.7,241.8 L581.4,240.9 L582.1,241.1 L582.8,241.7 L583.5,241.7 L584.2,241.3 L584.9,240.9 L585.6,241.4 L586.3,241.3 L587.0,242.0 L587.7,241.1 L588.4,241.4 L589.1,242.0 L589.8,241.0 L590.5,241.5 L591.2,242.0 L591.9,242.0 L592.6,241.2 L593.3,241.2 L594.0,241.3 L594.7,242.4 L595.4,241.6 L596.1,242.2 L596.8,242.5 L597.5,241.9 L598.2,241.8 L598.9,242.7 L599.6,242.4 L600.3,242.1 L601.0,242.7 L601.7,242.4 L602.4,242.6 L603.1,242.5 L603.8,243.7 L604.5,244.2 L605.2,244.1 L605.9,244.8 L606.6,244.1 L607.3,244.6 L608.0,245.2 L608.7,246.1 L609.4,246.4 L610.1,245.9 L610.8,246.0 L611.5,246.3 L612.2,247.9 L612.9,248.5 L613.6,250.7 L614.3,251.6 L615.0,248.8 L615.7,249.9 L616.4,246.6 L617.1,249.1 L617.8,249.8 L618.5,249.2 L619.2,250.6 L619.9,249.2 L620.6,249.6 L621.3,246.3 L622.0,246.4 L622.7,249.0 L622.7,127.0" fill="none" stroke="#5b9bd5" stroke-width="2" stroke-linejoin="round"/>
<path d="M370.0,190.0 L370.7,190.0 L371.4,190.0 L372.1,190.0 L372.8,190.1 L373.5,190.1 L374.2,190.2 L374.9,190.2 L375.6,190.3 L376.3,190.4 L377.0,190.4 L377.7,190.5 L378.4,190.6 L379.1,190.7 L379.8,190.8 L380.5,190.9 L381.2,191.1 L381.9,191.3 L382.6,191.6 L383.3,191.9 L384.0,192.2 L384.7,192.6 L385.4,192.9 L386.1,193.2 L386.8,193.4 L387.5,193.7 L388.2,193.9 L388.9,194.1 L389.6,194.3 L390.3,194.5 L391.0,194.7 L391.7,194.9 L392.4,195.0 L393.1,195.2 L393.8,195.4 L394.5,195.6 L395.2,195.8 L395.9,196.0 L396.6,196.2 L397.3,196.4 L398.0,196.6 L398.7,196.8 L399.4,197.0 L400.1,197.1 L400.8,197.3 L401.5,197.5 L402.2,197.7 L402.9,197.9 L403.6,198.1 L404.3,198.3 L405.0,198.5 L405.7,198.7 L406.4,198.9 L407.1,199.1 L407.8,199.3 L408.5,199.5 L409.2,199.7 L409.9,200.0 L410.6,200.2 L411.3,200.4 L412.0,200.6 L412.7,200.8 L413.4,201.1 L414.1,201.3 L414.8,201.5 L415.5,201.8 L416.2,202.0 L416.9,202.3 L417.6,202.5 L418.3,202.8 L419.0,203.0 L419.7,203.3 L420.4,203.5 L421.1,203.8 L421.8,204.1 L422.5,204.3 L423.2,204.6 L423.9,204.9 L424.6,205.1 L425.3,205.4 L426.0,205.6 L426.7,205.9 L427.4,206.2 L428.1,206.4 L428.8,206.7 L429.5,207.0 L430.2,207.3 L431.0,207.6 L431.7,207.8 L432.4,208.1 L433.1,208.4 L433.8,208.7 L434.5,209.0 L435.2,209.3 L435.9,209.5 L436.6,209.8 L437.3,210.1 L438.0,210.3 L438.7,210.6 L439.4,210.8 L440.1,211.0 L440.8,211.2 L441.5,211.4 L442.2,211.7 L442.9,211.9 L443.6,212.1 L444.3,212.3 L445.0,212.5 L445.7,212.6 L446.4,212.8 L447.1,213.0 L447.8,213.2 L448.5,213.4 L449.2,213.6 L449.9,213.7 L450.6,213.9 L451.3,214.1 L452.0,214.2 L452.7,214.4 L453.4,214.6 L454.1,214.7 L454.8,214.9 L455.5,215.1 L456.2,215.2 L456.9,215.4 L457.6,215.6 L458.3,215.7 L459.0,215.9 L459.7,216.1 L460.4,216.2 L461.1,216.4 L461.8,216.6 L462.5,216.7 L463.2,216.9 L463.9,217.1 L464.6,217.2 L465.3,217.4 L466.0,217.6 L466.7,217.8 L467.4,218.0 L468.1,218.1 L468.8,218.3 L469.5,218.5 L470.2,218.7 L470.9,218.8 L471.6,219.0 L472.3,219.2 L473.0,219.4 L473.7,219.6 L474.4,219.7 L475.1,219.9 L475.8,220.1 L476.5,220.3 L477.2,220.5 L477.9,220.6 L478.6,220.8 L479.3,221.0 L480.0,221.2 L480.7,221.3 L481.4,221.5 L482.1,221.7 L482.8,221.9 L483.5,222.1 L484.2,222.2 L484.9,222.4 L485.6,222.6 L486.3,222.8 L487.0,222.9 L487.7,223.1 L488.4,223.3 L489.1,223.5 L489.8,223.7 L490.5,223.8 L491.2,224.0 L491.9,224.2 L492.6,224.4 L493.3,224.5 L494.0,224.7 L494.7,224.9 L495.4,225.1 L496.1,225.2 L496.8,225.4 L497.5,225.6 L498.2,225.8 L498.9,225.9 L499.6,226.1 L500.3,226.3 L501.0,226.4 L501.7,226.6 L502.4,226.8 L503.1,227.0 L503.8,227.1 L504.5,227.3 L505.2,227.5 L505.9,227.7 L506.6,227.8 L507.3,228.0 L508.0,228.2 L508.7,228.3 L509.4,228.5 L510.1,228.7 L510.8,228.8 L511.5,229.0 L512.2,229.2 L512.9,229.3 L513.6,229.5 L514.3,229.7 L515.0,229.8 L515.7,230.0 L516.4,230.2 L517.1,230.3 L517.8,230.5 L518.5,230.7 L519.2,230.8 L519.9,231.0 L520.6,231.1 L521.3,231.3 L522.0,231.5 L522.7,231.6 L523.4,231.8 L524.1,231.9 L524.8,232.1 L525.5,232.2 L526.2,232.4 L526.9,232.6 L527.6,232.7 L528.3,232.9 L529.0,233.0 L529.7,233.2 L530.4,233.3 L531.1,233.5 L531.8,233.6 L532.5,233.8 L533.2,234.0 L533.9,234.1 L534.6,234.3 L535.3,234.3 L536.0,234.5 L536.7,234.7 L537.4,234.9 L538.1,235.0 L538.8,235.0 L539.5,235.2 L540.2,235.2 L540.9,235.4 L541.6,235.7 L542.3,235.8 L543.0,236.0 L543.7,236.0 L544.4,236.3 L545.1,236.2 L545.8,236.3 L546.5,236.6 L547.2,236.8 L547.9,236.6 L548.6,236.9 L549.3,237.0 L550.0,237.0 L550.8,237.2 L551.5,237.1 L552.2,237.3 L552.9,237.4 L553.6,237.8 L554.3,237.9 L555.0,237.7 L555.7,237.7 L556.4,238.1 L557.1,238.4 L557.8,238.2 L558.5,238.4 L559.2,238.4 L559.9,239.0 L560.6,238.9 L561.3,238.7 L562.0,238.8 L562.7,239.2 L563.4,239.4 L564.1,239.6 L564.8,239.3 L565.5,239.5 L566.2,240.0 L566.9,239.9 L567.6,239.9 L568.3,240.1 L569.0,240.8 L569.7,240.3 L570.4,240.7 L571.1,240.6 L571.8,240.8 L572.5,241.3 L573.2,241.6 L573.9,241.1 L574.6,241.0 L575.3,241.7 L576.0,241.3 L576.7,241.2 L577.4,242.2 L578.1,241.9 L578.8,242.4 L579.5,242.1 L580.2,242.7 L580.9,242.4 L581.6,242.2 L582.3,242.2 L583.0,242.9 L583.7,243.1 L584.4,243.5 L585.1,242.8 L585.8,243.4 L586.5,243.5 L587.2,243.9 L587.9,243.3 L588.6,244.2 L589.3,243.9 L590.0,245.0 L590.7,244.3 L591.4,245.0 L592.1,245.0 L592.8,245.5 L593.5,245.2 L594.2,245.0 L594.9,246.5 L595.6,246.2 L596.3,245.9 L597.0,244.4 L597.7,247.2 L598.4,246.5 L599.1,246.3 L599.8,248.0 L600.5,248.4 L601.2,246.7 L601.9,246.5 L602.6,247.1 L603.3,246.1 L604.0,246.7 L604.7,247.9 L605.4,246.2 L606.1,247.6 L606.8,248.2 L607.5,246.7 L608.2,248.9 L608.9,246.7 L609.6,249.3 L610.3,250.1 L611.0,249.0 L611.0,127.0" fill="none" stroke="#ed7d31" stroke-width="2.2" stroke-linejoin="round"/>
<path d="M370.0,190.2 L370.7,190.2 L371.4,190.2 L372.1,190.2 L372.8,190.3 L373.5,190.3 L374.2,190.4 L374.9,190.4 L375.6,190.5 L376.3,190.6 L377.0,190.6 L377.7,190.7 L378.4,190.8 L379.1,190.9 L379.8,191.0 L380.5,191.1 L381.3,191.3 L382.0,191.5 L382.7,191.8 L383.4,192.1 L384.1,192.5 L384.8,192.8 L385.5,193.1 L386.2,193.4 L386.9,193.7 L387.6,193.9 L388.3,194.1 L389.0,194.3 L389.7,194.5 L390.4,194.7 L391.1,194.9 L391.8,195.1 L392.5,195.3 L393.2,195.4 L393.9,195.6 L394.6,195.8 L395.3,196.0 L396.0,196.2 L396.7,196.4 L397.4,196.6 L398.1,196.8 L398.8,197.0 L399.5,197.2 L400.2,197.4 L400.9,197.6 L401.6,197.8 L402.4,198.0 L403.1,198.2 L403.8,198.4 L404.5,198.6 L405.2,198.8 L405.9,199.0 L406.6,199.2 L407.3,199.4 L408.0,199.7 L408.7,199.9 L409.4,200.1 L410.1,200.3 L410.8,200.5 L411.5,200.7 L412.2,201.0 L412.9,201.2 L413.6,201.4 L414.3,201.7 L415.0,201.9 L415.7,202.1 L416.4,202.4 L417.1,202.6 L417.8,202.9 L418.5,203.1 L419.2,203.4 L419.9,203.6 L420.6,203.9 L421.3,204.1 L422.0,204.4 L422.7,204.6 L423.5,204.9 L424.2,205.2 L424.9,205.4 L425.6,205.7 L426.3,205.9 L427.0,206.2 L427.7,206.5 L428.4,206.7 L429.1,207.0 L429.8,207.3 L430.5,207.6 L431.2,207.8 L431.9,208.1 L432.6,208.4 L433.3,208.7 L434.0,209.0 L434.7,209.3 L435.4,209.6 L436.1,209.8 L436.8,210.1 L437.5,210.4 L438.2,210.6 L438.9,210.9 L439.6,211.1 L440.3,211.3 L441.0,211.5 L441.7,211.7 L442.4,212.0 L443.1,212.1 L443.8,212.4 L444.5,212.6 L445.3,212.7 L446.0,212.9 L446.7,213.0 L447.4,213.3 L448.1,213.4 L448.8,213.7 L449.5,213.9 L450.2,213.8 L450.9,214.2 L451.6,214.4 L452.3,214.3 L453.0,214.5 L453.7,214.8 L454.4,214.8 L455.1,215.2 L455.8,215.1 L456.5,215.5 L457.2,215.4 L457.9,215.7 L458.6,216.0 L459.3,215.9 L460.0,216.1 L460.7,216.3 L461.4,216.4 L462.1,216.4 L462.8,216.6 L463.5,216.8 L464.2,217.4 L464.9,217.4 L465.6,217.8 L466.4,217.5 L467.1,218.1 L467.8,217.8 L468.5,218.3 L469.2,218.5 L469.9,218.5 L470.6,219.1 L471.3,219.0 L472.0,219.2 L472.7,219.6 L473.4,219.2 L474.1,220.1 L474.8,220.0 L475.5,220.0 L476.2,220.5 L476.9,220.2 L477.6,221.1 L478.3,220.9 L479.0,220.8 L479.7,221.4 L480.4,221.2 L481.1,221.1 L481.8,221.9 L482.5,221.4 L483.2,222.3 L483.9,221.9 L484.6,222.4 L485.3,223.0 L486.0,222.7 L486.7,223.0 L487.5,222.8 L488.2,222.6 L488.9,222.8 L489.6,223.1 L490.3,223.7 L491.0,223.7 L491.7,223.9 L492.4,224.5 L493.1,223.9 L493.8,224.1 L494.5,224.7 L495.2,224.2 L495.9,224.4 L496.6,224.9 L497.3,224.8 L498.0,225.3 L498.0,142.0 L499.6,141.0 L499.8,127.0" fill="none" stroke="#dc1c1c" stroke-width="1.15" stroke-linejoin="round"/>
<line x1="368.9" y1="127.0" x2="640.5" y2="127.0" stroke="#000" stroke-width="1.5" stroke-dasharray="3.8,2"/>
<rect x="368.9" y="41.7" width="271.6" height="215.5" fill="none" stroke="#000" stroke-width="2.8"/>
<line x1="368.9" y1="61.9" x2="372.7" y2="61.9" stroke="#000" stroke-width="2.5"/>
<line x1="368.9" y1="83.6" x2="372.7" y2="83.6" stroke="#000" stroke-width="2.5"/>
<line x1="368.9" y1="105.3" x2="372.7" y2="105.3" stroke="#000" stroke-width="2.5"/>
<line x1="368.9" y1="127.0" x2="372.7" y2="127.0" stroke="#000" stroke-width="2.5"/>
<line x1="368.9" y1="148.7" x2="372.7" y2="148.7" stroke="#000" stroke-width="2.5"/>
<line x1="368.9" y1="170.4" x2="372.7" y2="170.4" stroke="#000" stroke-width="2.5"/>
<line x1="368.9" y1="192.1" x2="372.7" y2="192.1" stroke="#000" stroke-width="2.5"/>
<line x1="368.9" y1="213.8" x2="372.7" y2="213.8" stroke="#000" stroke-width="2.5"/>
<line x1="368.9" y1="235.5" x2="372.7" y2="235.5" stroke="#000" stroke-width="2.5"/>
<line x1="436.8" y1="257.2" x2="436.8" y2="253.89999999999998" stroke="#000" stroke-width="2.6"/>
<line x1="504.7" y1="257.2" x2="504.7" y2="253.89999999999998" stroke="#000" stroke-width="2.6"/>
<line x1="572.6" y1="257.2" x2="572.6" y2="253.89999999999998" stroke="#000" stroke-width="2.6"/>
<text x="355.6" y="47.4" font-size="14" text-anchor="end">10</text>
<text x="355.8" y="42.9" font-size="8.6">-2</text>
<text x="355.6" y="89.4" font-size="14" text-anchor="end">10</text>
<text x="355.8" y="84.9" font-size="8.6">-4</text>
<text x="355.6" y="132.8" font-size="14" text-anchor="end">10</text>
<text x="355.8" y="128.3" font-size="8.6">-6</text>
<text x="355.6" y="176.2" font-size="14" text-anchor="end">10</text>
<text x="355.8" y="171.7" font-size="8.6">-8</text>
<text x="351.6" y="219.6" font-size="14" text-anchor="end">10</text>
<text x="351.8" y="215.1" font-size="8.6">-10</text>
<text x="351.6" y="263.0" font-size="14" text-anchor="end">10</text>
<text x="351.8" y="258.5" font-size="8.6">-12</text>
<text x="367.4" y="277.5" font-size="14" text-anchor="middle">0.1</text>
<text x="436.6" y="277.5" font-size="14" text-anchor="middle">1</text>
<text x="505.3" y="277.5" font-size="14" text-anchor="middle">10</text>
<text x="573.8" y="277.5" font-size="14" text-anchor="middle">100</text>
<text x="640.7" y="277.5" font-size="14" text-anchor="middle">1000</text>
<text x="504.8" y="294.4" font-size="14.67" text-anchor="middle" >Time (s)</text>
<text transform="translate(333,152.4) rotate(-90)" font-size="14.67" text-anchor="middle">Current (A)</text>
<text x="337.9" y="18" font-size="22.4" text-anchor="start" letter-spacing="0.3">(b)</text>
<line x1="376.4" y1="56.8" x2="401.5" y2="56.8" stroke="#7f6000" stroke-width="1.70"/>
<text x="404.4" y="61.099999999999994" font-size="13.33" text-anchor="start" >pH 13.6</text>
<line x1="466.3" y1="56.8" x2="491.6" y2="56.8" stroke="#000" stroke-width="1.70"/>
<text x="494" y="61.099999999999994" font-size="13.33" text-anchor="start" >pH 12.7</text>
<line x1="556.8" y1="56.8" x2="581" y2="56.8" stroke="#a5a5a5" stroke-width="1.53"/>
<text x="583.6" y="61.099999999999994" font-size="13.33" text-anchor="start" >pH 12.2</text>
<line x1="376.4" y1="71.7" x2="401.5" y2="71.7" stroke="#f7c52e" stroke-width="1.70"/>
<text x="404.4" y="76.0" font-size="13.33" text-anchor="start" >pH 11.3</text>
<line x1="466.3" y1="71.7" x2="491.6" y2="71.7" stroke="#bdb021" stroke-width="1.70"/>
<text x="494" y="76.0" font-size="13.33" text-anchor="start" >pH 11</text>
<line x1="556.8" y1="71.7" x2="581" y2="71.7" stroke="#7030a0" stroke-width="1.70"/>
<text x="583.6" y="76.0" font-size="13.33" text-anchor="start" >pH 10</text>
<line x1="376.4" y1="86.9" x2="401.5" y2="86.9" stroke="#70ad47" stroke-width="1.70"/>
<text x="404.4" y="91.2" font-size="13.33" text-anchor="start" >pH 7.5</text>
<line x1="466.3" y1="86.9" x2="491.6" y2="86.9" stroke="#5b9bd5" stroke-width="1.70"/>
<text x="494" y="91.2" font-size="13.33" text-anchor="start" >pH 5</text>
<line x1="556.8" y1="86.9" x2="581" y2="86.9" stroke="#ed7d31" stroke-width="1.70"/>
<text x="583.6" y="91.2" font-size="13.33" text-anchor="start" >pH 3</text>
<line x1="376.4" y1="101.6" x2="401.5" y2="101.6" stroke="#dc1c1c" stroke-width="0.98"/>
<text x="404.4" y="105.89999999999999" font-size="13.33" text-anchor="start" >pH 1</text>
<text x="558.8" y="120.6" font-size="13.33"><tspan font-style="italic">I</tspan><tspan font-size="9" dy="2.4">cutoff</tspan><tspan dy="-2.4"> = 1 </tspan><tspan font-family="Liberation Serif, serif" font-size="14">μ</tspan>A</text>
</g>
<g id="panelC">
<circle cx="207.3" cy="408.4" r="1.85" fill="none" stroke="#d42020" stroke-width="0.82"/>
<circle cx="207.3" cy="417.4" r="1.85" fill="none" stroke="#d42020" stroke-width="0.82"/>
<circle cx="207.3" cy="431.9" r="1.85" fill="none" stroke="#d42020" stroke-width="0.82"/>
<circle cx="207.3" cy="443.8" r="1.85" fill="none" stroke="#d42020" stroke-width="0.82"/>
<circle cx="207.3" cy="444.7" r="1.85" fill="none" stroke="#d42020" stroke-width="0.82"/>
<circle cx="207.3" cy="446.7" r="1.85" fill="none" stroke="#d42020" stroke-width="0.82"/>
<circle cx="207.3" cy="478.2" r="1.85" fill="none" stroke="#d42020" stroke-width="0.82"/>
<circle cx="207.3" cy="481.2" r="1.85" fill="none" stroke="#d42020" stroke-width="0.82"/>
<circle cx="247.9" cy="373.9" r="1.85" fill="none" stroke="#ed7d31" stroke-width="0.82"/>
<circle cx="247.9" cy="379.6" r="1.85" fill="none" stroke="#ed7d31" stroke-width="0.82"/>
<circle cx="247.9" cy="380.4" r="1.85" fill="none" stroke="#ed7d31" stroke-width="0.82"/>
<circle cx="247.9" cy="381.2" r="1.85" fill="none" stroke="#ed7d31" stroke-width="0.82"/>
<circle cx="247.9" cy="384.8" r="1.85" fill="none" stroke="#ed7d31" stroke-width="0.82"/>
<circle cx="247.9" cy="391.7" r="1.85" fill="none" stroke="#ed7d31" stroke-width="0.82"/>
<circle cx="247.9" cy="398.5" r="1.85" fill="none" stroke="#ed7d31" stroke-width="0.82"/>
<circle cx="247.9" cy="400.9" r="1.85" fill="none" stroke="#ed7d31" stroke-width="0.82"/>
<circle cx="284.8" cy="368.6" r="1.85" fill="none" stroke="#5b9bd5" stroke-width="0.82"/>
<circle cx="284.8" cy="370.3" r="1.85" fill="none" stroke="#5b9bd5" stroke-width="0.82"/>
<circle cx="284.8" cy="371.4" r="1.85" fill="none" stroke="#5b9bd5" stroke-width="0.82"/>
<circle cx="284.8" cy="372.6" r="1.85" fill="none" stroke="#5b9bd5" stroke-width="0.82"/>
<circle cx="381.4" cy="406.9" r="1.85" fill="none" stroke="#7030a0" stroke-width="0.82"/>
<circle cx="381.4" cy="409.3" r="1.85" fill="none" stroke="#7030a0" stroke-width="0.82"/>
<circle cx="381.4" cy="410.6" r="1.85" fill="none" stroke="#7030a0" stroke-width="0.82"/>
<circle cx="381.4" cy="411.8" r="1.85" fill="none" stroke="#7030a0" stroke-width="0.82"/>
<circle cx="381.4" cy="413.5" r="1.85" fill="none" stroke="#7030a0" stroke-width="0.82"/>
<circle cx="381.4" cy="415.3" r="1.85" fill="none" stroke="#7030a0" stroke-width="0.82"/>
<circle cx="401.1" cy="417.0" r="1.85" fill="none" stroke="#bdb021" stroke-width="0.82"/>
<circle cx="401.1" cy="418.3" r="1.85" fill="none" stroke="#bdb021" stroke-width="0.82"/>
<circle cx="401.1" cy="425.0" r="1.85" fill="none" stroke="#bdb021" stroke-width="0.82"/>
<circle cx="401.1" cy="426.9" r="1.85" fill="none" stroke="#bdb021" stroke-width="0.82"/>
<circle cx="401.1" cy="429.3" r="1.85" fill="none" stroke="#bdb021" stroke-width="0.82"/>
<circle cx="401.1" cy="461.1" r="1.85" fill="none" stroke="#bdb021" stroke-width="0.82"/>
<circle cx="406.8" cy="430.4" r="1.85" fill="none" stroke="#ffc000" stroke-width="0.82"/>
<circle cx="406.8" cy="436.7" r="1.85" fill="none" stroke="#ffc000" stroke-width="0.82"/>
<circle cx="406.8" cy="438.0" r="1.85" fill="none" stroke="#ffc000" stroke-width="0.82"/>
<circle cx="406.8" cy="443.2" r="1.85" fill="none" stroke="#ffc000" stroke-width="0.82"/>
<circle cx="406.8" cy="444.4" r="1.85" fill="none" stroke="#ffc000" stroke-width="0.82"/>
<circle cx="406.8" cy="454.2" r="1.85" fill="none" stroke="#ffc000" stroke-width="0.82"/>
<circle cx="424.4" cy="457.3" r="1.85" fill="none" stroke="#a5a5a5" stroke-width="0.82"/>
<circle cx="424.4" cy="461.6" r="1.85" fill="none" stroke="#a5a5a5" stroke-width="0.82"/>
<circle cx="424.4" cy="466.6" r="1.85" fill="none" stroke="#a5a5a5" stroke-width="0.82"/>
<circle cx="424.4" cy="471.8" r="1.85" fill="none" stroke="#a5a5a5" stroke-width="0.82"/>
<circle cx="424.4" cy="479.7" r="1.85" fill="none" stroke="#a5a5a5" stroke-width="0.82"/>
<circle cx="435.5" cy="476.1" r="1.85" fill="none" stroke="#000" stroke-width="0.82"/>
<circle cx="435.5" cy="477.4" r="1.85" fill="none" stroke="#000" stroke-width="0.82"/>
<circle cx="435.5" cy="479.7" r="1.85" fill="none" stroke="#000" stroke-width="0.82"/>
<circle cx="435.5" cy="483.2" r="1.85" fill="none" stroke="#000" stroke-width="0.82"/>
<circle cx="435.5" cy="485.2" r="1.85" fill="none" stroke="#000" stroke-width="0.82"/>
<circle cx="435.5" cy="486.3" r="1.85" fill="none" stroke="#000" stroke-width="0.82"/>
<circle cx="435.5" cy="487.2" r="1.85" fill="none" stroke="#000" stroke-width="0.82"/>
<circle cx="435.5" cy="488.1" r="1.85" fill="none" stroke="#000" stroke-width="0.82"/>
<circle cx="435.5" cy="489.0" r="1.85" fill="none" stroke="#000" stroke-width="0.82"/>
<circle cx="435.5" cy="489.8" r="1.85" fill="none" stroke="#000" stroke-width="0.82"/>
<circle cx="435.5" cy="490.6" r="1.85" fill="none" stroke="#000" stroke-width="0.82"/>
<circle cx="435.5" cy="491.5" r="1.85" fill="none" stroke="#000" stroke-width="0.82"/>
<circle cx="435.5" cy="492.4" r="1.85" fill="none" stroke="#000" stroke-width="0.82"/>
<circle cx="435.5" cy="493.2" r="1.85" fill="none" stroke="#000" stroke-width="0.82"/>
<circle cx="435.5" cy="497.5" r="1.85" fill="none" stroke="#000" stroke-width="0.82"/>
<circle cx="435.5" cy="498.3" r="1.85" fill="none" stroke="#000" stroke-width="0.82"/>
<circle cx="435.5" cy="500.1" r="1.85" fill="none" stroke="#000" stroke-width="0.82"/>
<circle cx="451.3" cy="497.1" r="1.85" fill="none" stroke="#7f6000" stroke-width="0.82"/>
<circle cx="451.3" cy="501.6" r="1.85" fill="none" stroke="#7f6000" stroke-width="0.82"/>
<circle cx="451.3" cy="504.6" r="1.85" fill="none" stroke="#7f6000" stroke-width="0.82"/>
<circle cx="451.3" cy="516.6" r="1.85" fill="none" stroke="#7f6000" stroke-width="0.82"/>
<circle cx="333.3" cy="372.6" r="1.85" fill="none" stroke="#70ad47" stroke-width="0.82"/>
<circle cx="333.3" cy="373.2" r="1.85" fill="none" stroke="#70ad47" stroke-width="0.82"/>
<circle cx="333.3" cy="373.9" r="1.85" fill="none" stroke="#70ad47" stroke-width="0.82"/>
<circle cx="333.3" cy="374.5" r="1.85" fill="none" stroke="#70ad47" stroke-width="0.82"/>
<circle cx="333.3" cy="375.2" r="1.85" fill="none" stroke="#70ad47" stroke-width="0.82"/>
<circle cx="333.3" cy="375.8" r="1.85" fill="none" stroke="#70ad47" stroke-width="0.82"/>
<circle cx="333.3" cy="376.4" r="1.85" fill="none" stroke="#70ad47" stroke-width="0.82"/>
<circle cx="333.3" cy="377.1" r="1.85" fill="none" stroke="#70ad47" stroke-width="0.82"/>
<circle cx="333.3" cy="377.7" r="1.85" fill="none" stroke="#70ad47" stroke-width="0.82"/>
<circle cx="333.3" cy="378.4" r="1.85" fill="none" stroke="#70ad47" stroke-width="0.82"/>
<circle cx="333.3" cy="379.0" r="1.85" fill="none" stroke="#70ad47" stroke-width="0.82"/>
<circle cx="333.3" cy="379.7" r="1.85" fill="none" stroke="#70ad47" stroke-width="0.82"/>
<circle cx="333.3" cy="380.3" r="1.85" fill="none" stroke="#70ad47" stroke-width="0.82"/>
<circle cx="333.3" cy="380.9" r="1.85" fill="none" stroke="#70ad47" stroke-width="0.82"/>
<circle cx="333.3" cy="381.6" r="1.85" fill="none" stroke="#70ad47" stroke-width="0.82"/>
<circle cx="333.3" cy="382.2" r="1.85" fill="none" stroke="#70ad47" stroke-width="0.82"/>
<circle cx="333.3" cy="382.9" r="1.85" fill="none" stroke="#70ad47" stroke-width="0.82"/>
<circle cx="333.3" cy="383.5" r="1.85" fill="none" stroke="#70ad47" stroke-width="0.82"/>
<circle cx="333.3" cy="384.1" r="1.85" fill="none" stroke="#70ad47" stroke-width="0.82"/>
<circle cx="333.3" cy="384.8" r="1.85" fill="none" stroke="#70ad47" stroke-width="0.82"/>
<circle cx="333.3" cy="385.4" r="1.85" fill="none" stroke="#70ad47" stroke-width="0.82"/>
<circle cx="333.3" cy="386.1" r="1.85" fill="none" stroke="#70ad47" stroke-width="0.82"/>
<circle cx="333.3" cy="386.7" r="1.85" fill="none" stroke="#70ad47" stroke-width="0.82"/>
<circle cx="333.3" cy="387.3" r="1.85" fill="none" stroke="#70ad47" stroke-width="0.82"/>
<circle cx="333.3" cy="388.0" r="1.85" fill="none" stroke="#70ad47" stroke-width="0.82"/>
<circle cx="333.3" cy="388.6" r="1.85" fill="none" stroke="#70ad47" stroke-width="0.82"/>
<circle cx="333.3" cy="389.3" r="1.85" fill="none" stroke="#70ad47" stroke-width="0.82"/>
<circle cx="333.3" cy="389.9" r="1.85" fill="none" stroke="#70ad47" stroke-width="0.82"/>
<circle cx="333.3" cy="390.5" r="1.85" fill="none" stroke="#70ad47" stroke-width="0.82"/>
<circle cx="333.3" cy="391.2" r="1.85" fill="none" stroke="#70ad47" stroke-width="0.82"/>
<circle cx="333.3" cy="391.8" r="1.85" fill="none" stroke="#70ad47" stroke-width="0.82"/>
<circle cx="333.3" cy="392.5" r="1.85" fill="none" stroke="#70ad47" stroke-width="0.82"/>
<circle cx="333.3" cy="393.1" r="1.85" fill="none" stroke="#70ad47" stroke-width="0.82"/>
<circle cx="333.3" cy="393.8" r="1.85" fill="none" stroke="#70ad47" stroke-width="0.82"/>
<circle cx="333.3" cy="394.4" r="1.85" fill="none" stroke="#70ad47" stroke-width="0.82"/>
<circle cx="333.3" cy="395.0" r="1.85" fill="none" stroke="#70ad47" stroke-width="0.82"/>
<circle cx="333.3" cy="395.7" r="1.85" fill="none" stroke="#70ad47" stroke-width="0.82"/>
<circle cx="333.3" cy="396.3" r="1.85" fill="none" stroke="#70ad47" stroke-width="0.82"/>
<circle cx="333.3" cy="397.0" r="1.85" fill="none" stroke="#70ad47" stroke-width="0.82"/>
<circle cx="333.3" cy="397.6" r="1.85" fill="none" stroke="#70ad47" stroke-width="0.82"/>
<rect x="188.6" y="352.5" width="271.20000000000005" height="184.20000000000005" fill="none" stroke="#000" stroke-width="2.1"/>
<line x1="188.6" y1="413.9" x2="191.7" y2="413.9" stroke="#000" stroke-width="1.8"/>
<line x1="188.6" y1="475.3" x2="191.7" y2="475.3" stroke="#000" stroke-width="1.8"/>
<line x1="227.3" y1="536.7" x2="227.3" y2="533.6" stroke="#000" stroke-width="1.8"/>
<line x1="266.1" y1="536.7" x2="266.1" y2="533.6" stroke="#000" stroke-width="1.8"/>
<line x1="304.8" y1="536.7" x2="304.8" y2="533.6" stroke="#000" stroke-width="1.8"/>
<line x1="343.6" y1="536.7" x2="343.6" y2="533.6" stroke="#000" stroke-width="1.8"/>
<line x1="382.3" y1="536.7" x2="382.3" y2="533.6" stroke="#000" stroke-width="1.8"/>
<line x1="421.1" y1="536.7" x2="421.1" y2="533.6" stroke="#000" stroke-width="1.8"/>
<text x="183.9" y="358.3" font-size="14.67" text-anchor="end">1000</text>
<text x="183.9" y="419.7" font-size="14.67" text-anchor="end">100</text>
<text x="183.9" y="481.1" font-size="14.67" text-anchor="end">10</text>
<text x="183.9" y="542.5" font-size="14.67" text-anchor="end">1</text>
<text x="188.6" y="555.3" font-size="14.67" text-anchor="middle">0</text>
<text x="227.3" y="555.3" font-size="14.67" text-anchor="middle">2</text>
<text x="266.1" y="555.3" font-size="14.67" text-anchor="middle">4</text>
<text x="304.8" y="555.3" font-size="14.67" text-anchor="middle">6</text>
<text x="343.6" y="555.3" font-size="14.67" text-anchor="middle">8</text>
<text x="382.3" y="555.3" font-size="14.67" text-anchor="middle">10</text>
<text x="421.1" y="555.3" font-size="14.67" text-anchor="middle">12</text>
<text x="460.3" y="555.3" font-size="14.67" text-anchor="middle">14</text>
<text x="319.8" y="573" font-size="14.67" text-anchor="middle" >pH</text>
<text transform="translate(152,447.8) rotate(-90)" font-size="14.9" text-anchor="middle">Time to breakdown (s)</text>
<text x="123.7" y="340.5" font-size="22.4" text-anchor="start" letter-spacing="0.4">(c)</text>
</g>
</svg>
</body></html>
